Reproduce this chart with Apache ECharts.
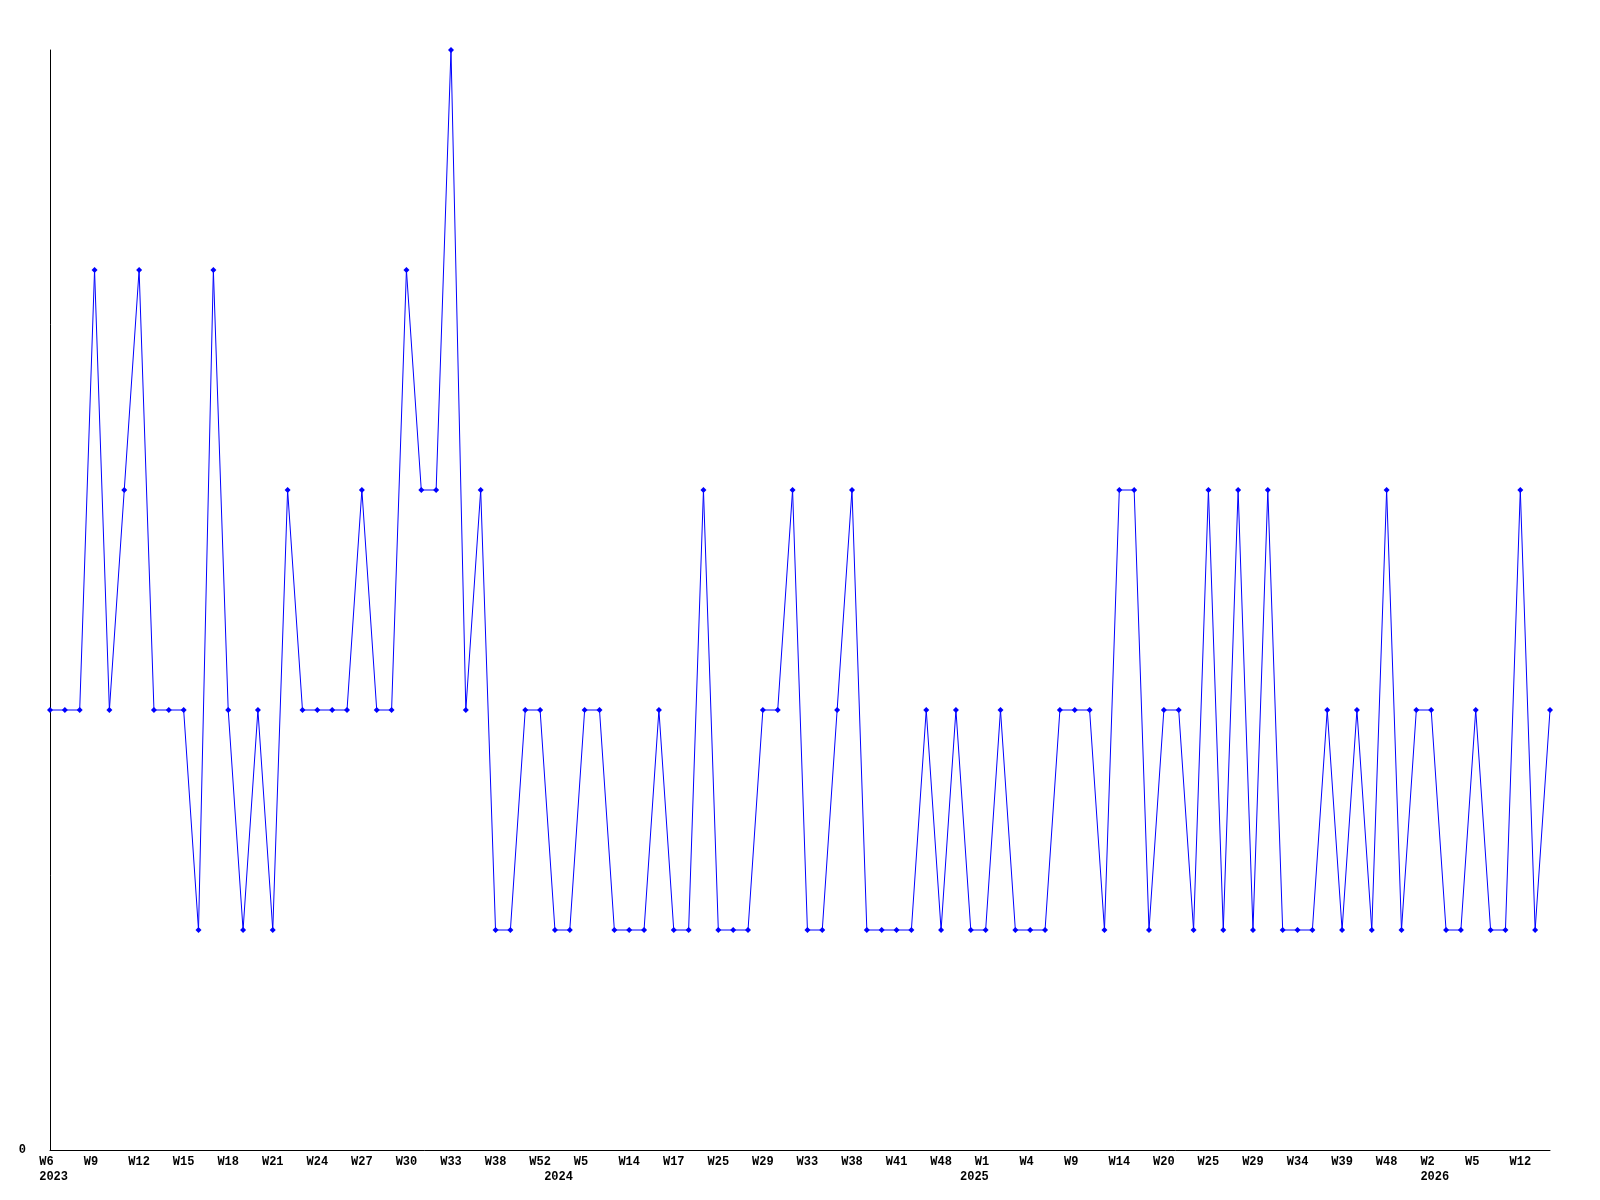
<!DOCTYPE html>
<html>
<head>
<meta charset="utf-8">
<script src="https://cdn.jsdelivr.net/npm/echarts@6/dist/echarts.min.js"></script>
<style>html,body{margin:0;padding:0;background:#fff}#c{width:1600px;height:1200px}</style>
</head>
<body>
<div id="c"></div>
<script>
const weeks = [
  'W6','W7','W8','W9','W10','W11','W12','W13','W14','W15',
  'W16','W17','W18','W19','W20','W21','W22','W23','W24','W25',
  'W26','W27','W28','W29','W30','W31','W32','W33','W34','W36',
  'W38','W42','W46','W52','W1','W3','W5','W8','W11','W14',
  'W15','W16','W17','W19','W22','W25','W26','W27','W29','W30',
  'W31','W33','W35','W37','W38','W39','W40','W41','W43','W45',
  'W48','W50','W52','W1','W2','W3','W4','W6','W7','W9',
  'W11','W12','W14','W15','W17','W20','W22','W23','W25','W26',
  'W27','W29','W30','W32','W34','W35','W37','W39','W41','W44',
  'W48','W50','W51','W2','W3','W4','W5','W7','W9','W12',
  'W13','W14'
];
const years = {0: '2023', 34: '2024', 62: '2025', 93: '2026'};
const values = [
  2,2,2,4,2,3,4,2,2,2,
  1,4,2,1,2,1,3,2,2,2,
  2,3,2,2,4,3,3,5,2,3,
  1,1,2,2,1,1,2,2,1,1,
  1,2,1,1,3,1,1,1,2,2,
  3,1,1,2,3,1,1,1,1,2,
  1,2,1,1,2,1,1,1,2,2,
  2,1,3,3,1,2,2,1,3,1,
  3,1,3,1,1,1,2,1,2,1,
  3,1,2,2,1,1,2,1,1,3,
  1,2
];
const yearLabels = weeks.map((w, i) => years[i] ? ' ' + years[i] : '');
const weekLabels = weeks.map(w => w.length < 3 ? w + ' ' : w);

const font = { fontFamily: 'Liberation Mono', fontWeight: 'bold', fontSize: 12, color: '#000', lineHeight: 12 };
const chart = echarts.init(document.getElementById('c'), null, { renderer: 'canvas' });
chart.setOption({
  animation: false,
  backgroundColor: '#fff',
  grid: { left: 50, right: 50, top: 50, bottom: 50, containLabel: false },
  xAxis: [
    {
      type: 'category', data: weekLabels, boundaryGap: false,
      axisLine: { lineStyle: { color: '#000', width: 1 } },
      axisTick: { show: false },
      splitLine: { show: false },
      axisLabel: Object.assign({ interval: 2, margin: 6, align: 'center' }, font)
    },
    {
      type: 'category', data: yearLabels, boundaryGap: false, position: 'bottom',
      axisLine: { show: false }, axisTick: { show: false }, splitLine: { show: false },
      axisLabel: Object.assign({ interval: 0, margin: 21, align: 'center' }, font)
    }
  ],
  yAxis: {
    type: 'value', min: 0, max: 5, interval: 5,
    axisLine: { show: true, lineStyle: { color: '#000', width: 1 } },
    axisTick: { show: false },
    splitLine: { show: false },
    axisLabel: Object.assign({ margin: 24, showMaxLabel: false, formatter: v => v === 0 ? '0' : '' }, font)
  },
  series: [{
    type: 'line', data: values, xAxisIndex: 0,
    symbol: 'diamond', symbolSize: 6, showSymbol: true,
    lineStyle: { color: '#0000ff', width: 1 },
    itemStyle: { color: '#0000ff' }
  }]
});
</script>
</body>
</html>
